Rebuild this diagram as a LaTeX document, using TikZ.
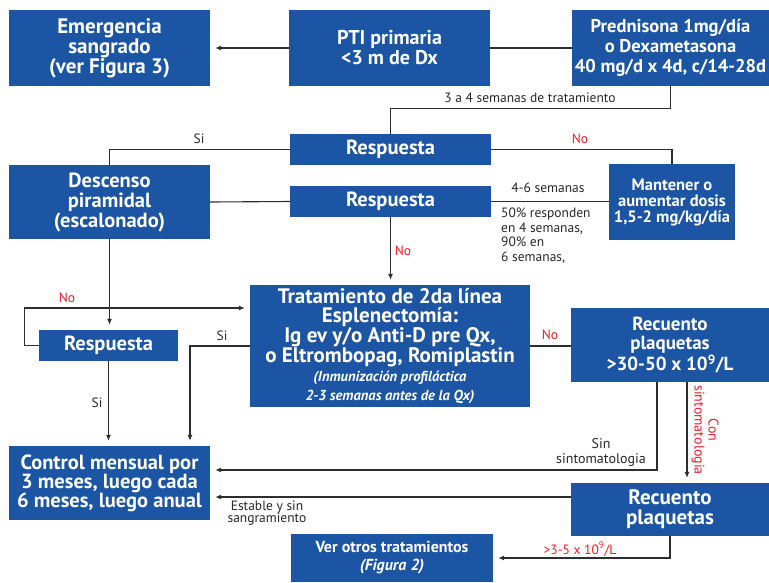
\documentclass[tikz,border=0pt]{standalone}
\usepackage{fontspec}
\setmainfont{PT Sans}
\usetikzlibrary{arrows.meta,calc}
\definecolor{boxblue}{RGB}{27,85,164}
\definecolor{lbl}{RGB}{40,40,40}
\definecolor{lred}{RGB}{237,28,36}
\definecolor{ln}{RGB}{45,45,45}
\newcommand{\smit}[1]{{\itshape\fontsize{14.5}{17.5}\selectfont #1}}
\newcommand{\mdit}[1]{{\itshape #1}}
\newcommand{\fs}[2]{\bfseries\fontsize{#1}{#2}\selectfont}
\begin{document}
\begin{tikzpicture}[x=1pt,y=-1pt,
  box/.style={fill=boxblue,text=white,font=\fs{20}{20},align=center,inner sep=0pt},
  conn/.style={draw=ln,line width=1.1pt},
  arr/.style={conn,-{Latex[length=6pt,width=5pt]},shorten >=5pt},
  lab/.style={text=lbl,font=\fontsize{13.5}{14.5}\selectfont,inner sep=0pt,align=center},
  rlab/.style={text=lred,font=\fontsize{13.5}{14.5}\selectfont,inner sep=0pt,align=center}]
\useasboundingbox[fill=white] (0,0) rectangle (769,582);
% boxes
\node[box,minimum width=201pt,minimum height=76pt,font=\fs{21}{20}] (emerg) at (109.5,48) {Emergencia\\sangrado\\(ver Figura 3)};
\node[box,minimum width=201pt,minimum height=76pt,font=\fs{20}{20}] (pti) at (389.5,48) {PTI primaria\\<3 m de Dx};
\node[box,minimum width=197pt,minimum height=76pt,font=\fs{18.5}{20}] (pred) at (670.5,48) {Prednisona 1mg/día\\o Dexametasona\\40 mg/d x 4d, c/14-28d};
\node[box,minimum width=201pt,minimum height=31pt,font=\fs{20.5}{20}] (resp1) at (390.5,149.5) {Respuesta};
\node[box,minimum width=201pt,minimum height=74pt,font=\fs{20.5}{20}] (desc) at (109.5,202) {Descenso\\piramidal\\(escalonado)};
\node[box,minimum width=201pt,minimum height=31pt,font=\fs{20.5}{20}] (resp2) at (390.5,201.5) {Respuesta};
\node[box,minimum width=126pt,minimum height=76pt,font=\fs{16.5}{16}] (mant) at (672,202) {Mantener o\\aumentar dosis\\1,5-2 mg/kg/día};
\node[box,minimum width=280pt,minimum height=122pt,font=\fs{21}{19}] (trat) at (390,346) {Tratamiento de 2da línea\\Esplenectomía:\\Ig ev y/o Anti-D pre Qx,\\o Eltrombopag, Romiplastin\\\smit{(Inmunización profiláctica}\\\smit{2-3 semanas antes de la Qx)}};
\node[box,minimum width=139pt,minimum height=31pt,font=\fs{20.5}{20}] (resp3) at (108.5,345.5) {Respuesta};
\node[box,minimum width=198pt,minimum height=74pt,font=\fs{19}{19.5}] (rec1) at (670,345) {Recuento\\plaquetas\\>30-50 x 10\textsuperscript{9}/L};
\node[box,minimum width=201pt,minimum height=74pt,font=\fs{20.5}{19}] (ctrl) at (109.5,483) {Control mensual por\\3 meses, luego cada\\6 meses, luego anual};
\node[box,minimum width=198pt,minimum height=53pt,font=\fs{21}{20}] (rec2) at (670,509.5) {Recuento\\plaquetas};
\node[box,minimum width=202pt,minimum height=48pt,font=\fs{16}{18}] (ver) at (392,558) {Ver otros tratamientos\\\mdit{(Figura 2)}};
% connectors
\draw[arr] (pti.west) -- (emerg.east);
\draw[conn] (pti.east) -- (pred.west);
\draw[conn] (pred.south) -- ++(0,22) -| (resp1.north);
\draw[conn] (resp1.west) -| (desc.north);
\draw[conn] (resp1.east) -| (mant.north);
\draw[conn] (desc.east) -- (resp2.west);
\draw[conn] (resp2.east) -- (resp2.east -| mant.west);
\draw[arr] (resp2.south) -- (resp2.south |- trat.north);
\draw[arr] (desc.south) -- (desc.south |- resp3.north);
\draw[arr] (resp3.west) -- ++(-14,0) |- ([yshift=38pt]trat.west);
\draw[arr] (trat.west) -| ([xshift=80.5pt]ctrl.north);
\draw[arr] (resp3.south) -- (resp3.south |- ctrl.north);
\draw[conn] (trat.east) -- (trat.east -| rec1.west);
\draw[arr] ([xshift=-13pt]rec1.south) |- ([yshift=13pt]ctrl.east);
\draw[arr] ([xshift=17pt]rec1.south) -- ([xshift=17pt]rec2.north);
\draw[arr] ([yshift=12.5pt]rec2.west) -- ([yshift=12.5pt]rec2.west -| ctrl.east);
\draw[arr] (rec2.south) |- (ver.east);
% labels
\node[lab] (l1) at (530,98) {3 a 4 semanas de tratamiento};
\node[lab] (l2) at (199,139) {Si};
\node[rlab] (l3) at (580,139) {No};
\node[lab] (l4) at (548,188) {4-6 semanas};
\node[lab,align=left,anchor=north west] (l5) at (501,208) {50\% responden\\en 4 semanas,\\90\% en\\6 semanas,};
\node[rlab] (l6) at (403,251) {No};
\node[rlab] (l7) at (67,298) {No};
\node[lab] (l8) at (222,336) {Si};
\node[rlab] (l9) at (550,335) {No};
\node[lab] (l10) at (97,403) {Si};
\node[lab,font=\fontsize{14}{15}\selectfont] (l11) at (601,452) {Sin\\sintomatologia};
\node[rlab,rotate=-90,font=\fontsize{14}{14}\selectfont] (l12) at (705,430) {Con\\sintomatologia};
\node[lab,font=\fontsize{13.5}{12.5}\selectfont] (l13) at (267,513) {Estable y sin\\sangramiento};
\node[rlab] (l14) at (580,549) {>3-5 x 10\textsuperscript{9}/L};
\end{tikzpicture}
\end{document}
